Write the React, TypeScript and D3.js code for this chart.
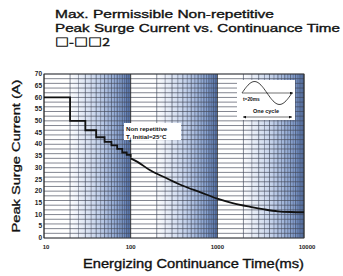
import React from 'react';
import * as d3 from 'd3';

// step part: one value per cycle window (ms)
const stepTimes = [10, 20, 30, 40, 50, 60, 70, 80, 90, 100];
const stepValues = [60, 50, 46, 43, 41, 39.5, 38, 36.5, 35.5, 34.5];

// smooth part after 100 ms
const curveTimes = [100, 120, 166, 260, 400, 630, 1000, 1500, 2400, 3500, 5000, 7000, 10000];
const curveValues = [34, 32.5, 29, 25.5, 22.3, 19.6, 16.8, 14.9, 13.3, 12.2, 11.4, 11.1, 11];

const yTicks = d3.range(0, 71, 5);
const yGrid = d3.range(0, 71, 2);
const xTicks = [10, 100, 1000, 10000];
const decades = [10, 100, 1000];
const minorSteps = d3.range(2, 10, 0.5);

const titleLines = ['Max. Permissible Non-repetitive', 'Peak Surge Current vs. Continuance Time', '□-□□2'];

const W = 343;
const H = 276;
const left = 44;
const right = 304;
const top = 74;
const bottom = 238;

export default function App() {
  const x = d3.scaleLog().domain([10, 10000]).range([left, right]);
  const y = d3.scaleLinear().domain([0, 70]).range([bottom, top]);

  const stepPts: [number, number][] = stepTimes.map((t, i) => [t, stepValues[i]]);
  stepPts.push([100, stepValues[stepValues.length - 1]]);
  const stepPath = d3
    .line<[number, number]>()
    .x((d) => x(d[0]))
    .y((d) => y(d[1]))
    .curve(d3.curveStepAfter)(stepPts);

  const smoothPts: [number, number][] = curveTimes.map((t, i) => [t, curveValues[i]]);
  const smoothPath = d3
    .line<[number, number]>()
    .x((d) => x(d[0]))
    .y((d) => y(d[1]))
    .curve(d3.curveMonotoneX)(smoothPts);

  // small sine icon inside the inset box
  const ix0 = 242;
  const ix1 = 292;
  const iy = 93;
  const sx = d3.scaleLinear().domain([0, 1]).range([ix0, ix1]);
  const sinePath = d3
    .line<number>()
    .x((d) => sx(d))
    .y((d) => iy - 11.5 * Math.sin(d * 2 * Math.PI))
    .curve(d3.curveBasis)(d3.range(0, 1.001, 0.02));

  const font = 'Liberation Sans, Arial, sans-serif';

  return (
    <svg width={W} height={H} style={{ position: 'absolute', left: 0, top: 0, background: '#fff' }}>
      <defs>
        <linearGradient id="band" x1="0" x2="1" y1="0" y2="0">
          <stop offset="0" stopColor="#ffffff" />
          <stop offset="0.28" stopColor="#ffffff" />
          <stop offset="0.62" stopColor="#c6d3eb" />
          <stop offset="0.88" stopColor="#859fcd" />
          <stop offset="1" stopColor="#5574ad" />
        </linearGradient>
        <marker id="arr" viewBox="0 0 6 6" refX="6" refY="3" markerWidth="5" markerHeight="5" orient="auto-start-reverse">
          <path d="M0,0 L6,3 L0,6 z" fill="#111" />
        </marker>
      </defs>

      {titleLines.map((s, i) => (
        <text
          key={i}
          x={55}
          y={[18, 32, 46][i]}
          fontFamily={i === 2 ? 'Noto Sans CJK JP, DejaVu Sans, sans-serif' : font}
          fontSize={i === 2 ? 10.5 : 11.5}
          fill="#111"
          stroke="#111"
          strokeWidth={0.35}
          textLength={[219, 285, 55][i]}
          lengthAdjust="spacingAndGlyphs"
        >
          {s}
        </text>
      ))}

      {decades.map((d) => (
        <rect key={d} x={x(d)} y={top} width={x(d * 10) - x(d)} height={bottom - top} fill="url(#band)" />
      ))}

      {yGrid.map((v) => (
        <line key={v} x1={left} x2={right} y1={y(v)} y2={y(v)} stroke="#3f4454" strokeWidth={0.65} />
      ))}

      {decades.map((d) =>
        minorSteps.map((m) => (
          <line
            key={`${d}-${m}`}
            x1={x(d * m)}
            x2={x(d * m)}
            y1={top}
            y2={bottom}
            stroke="#3d4558"
            strokeWidth={Number.isInteger(m) ? 0.7 : 0.5}
            strokeOpacity={0.9}
          />
        ))
      )}

      {xTicks.map((t) => (
        <line key={t} x1={x(t)} x2={x(t)} y1={top} y2={bottom} stroke="#222" strokeWidth={0.9} />
      ))}

      <rect x={left} y={top} width={right - left} height={bottom - top} fill="none" stroke="#333" strokeWidth={0.8} />

      {yTicks.map((v) => (
        <text key={v} x={42} y={y(v) + 2.2} textAnchor="end" fontFamily={font} fontSize={6.5} fontWeight="bold" fill="#222">
          {v}
        </text>
      ))}

      {xTicks.map((t) => (
        <text key={t} x={x(t) + (t === 10 ? 2 : t === 10000 ? 3 : 0)} y={249} textAnchor="middle" fontFamily={font} fontSize={6} fontWeight="bold" fill="#222">
          {t}
        </text>
      ))}

      <path d={stepPath ?? ''} fill="none" stroke="#111" strokeWidth={1.8} />
      <path d={smoothPath ?? ''} fill="none" stroke="#111" strokeWidth={1.8} />

      {/* annotation */}
      <rect x={124} y={123} width={57} height={17} fill="#fff" />
      <text x={126} y={131} fontFamily={font} fontSize={6.2} fontWeight="bold" fill="#111">
        Non repetitive
      </text>
      <text x={126} y={139} fontFamily={font} fontSize={6.2} fontWeight="bold" fill="#111">
        T<tspan fontSize={4.5} dy={1.5}>j</tspan>
        <tspan dy={-1.5}> Initial=25°C</tspan>
      </text>

      {/* inset */}
      <rect x={237} y={80} width={58} height={40} fill="#fff" />
      <line x1={ix0} x2={ix1 + 1} y1={iy} y2={iy} stroke="#111" strokeWidth={0.6} markerEnd="url(#arr)" />
      <path d={sinePath ?? ''} fill="none" stroke="#111" strokeWidth={0.8} />
      <text x={243} y={101} fontFamily={font} fontSize={4.8} fontWeight="bold" fill="#111">
        t=20ms
      </text>
      <text x={253} y={113} fontFamily={font} fontSize={5.5} fontWeight="bold" fill="#111">
        One cycle
      </text>
      <line x1={243} x2={292} y1={117} y2={117} stroke="#111" strokeWidth={0.6} markerStart="url(#arr)" markerEnd="url(#arr)" />

      <text
        transform={`translate(20,${(top + bottom) / 2}) rotate(-90)`}
        textAnchor="middle"
        fontFamily={font}
        fontSize={11.5}
        fill="#111"
        stroke="#111"
        strokeWidth={0.3}
        textLength={153}
        lengthAdjust="spacingAndGlyphs"
      >
        Peak Surge Current (A)
      </text>

      <text
        x={83}
        y={268}
        fontFamily={font}
        fontSize={12.5}
        fill="#111"
        stroke="#111"
        strokeWidth={0.35}
        textLength={221}
        lengthAdjust="spacingAndGlyphs"
      >
        Energizing Continuance Time(ms)
      </text>
    </svg>
  );
}
